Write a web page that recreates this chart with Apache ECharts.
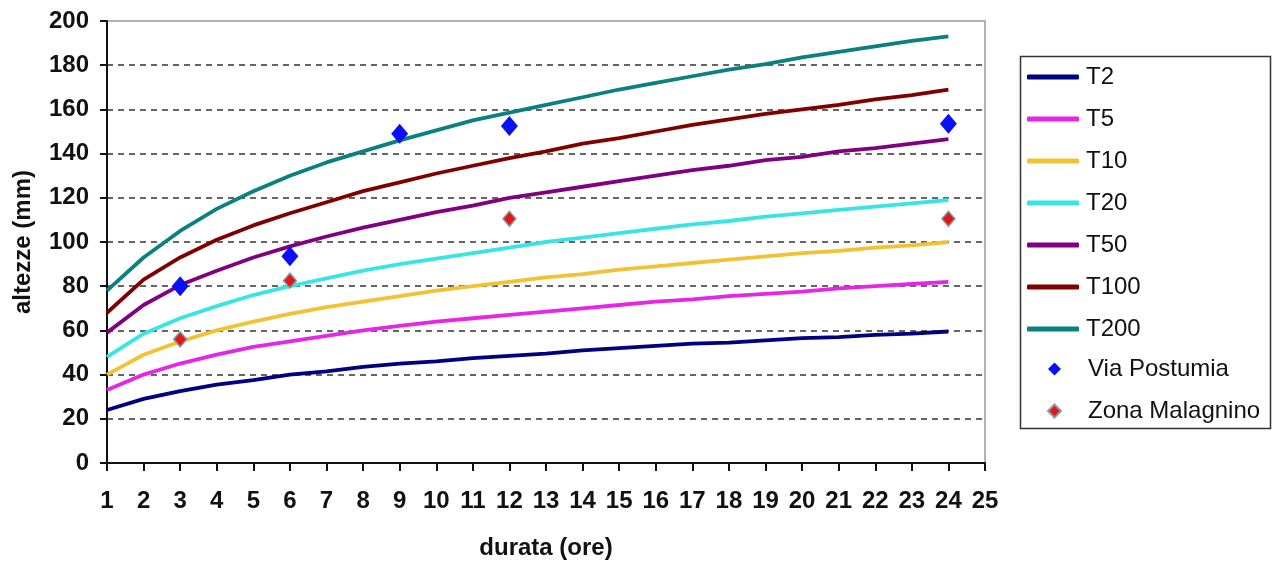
<!DOCTYPE html>
<html>
<head>
<meta charset="utf-8">
<script src="https://cdn.jsdelivr.net/npm/echarts@6/dist/echarts.min.js"></script>
<style>
html,body{margin:0;padding:0;background:#fff;}
#c{width:1278px;height:567px;}
</style>
</head>
<body>
<div id="c"></div>
<script>
var durations = [1,2,3,4,5,6,7,8,9,10,11,12,13,14,15,16,17,18,19,20,21,22,23,24];
var seriesNames = ['T2','T5','T10','T20','T50','T100','T200'];
var T2   = [24,29,32.5,35.5,37.5,40,41.5,43.5,45,46,47.5,48.5,49.5,51,52,53,54,54.5,55.5,56.5,57,58,58.5,59.5];
var T5   = [33,40,45,49,52.5,55,57.5,60,62,64,65.5,67,68.5,70,71.5,73,74,75.5,76.5,77.5,79,80,81,82];
var T10  = [40,49,55,60,64,67.5,70.5,73,75.5,78,80,82,84,85.5,87.5,89,90.5,92,93.5,95,96,97.5,98.5,100];
var T20  = [48,58.5,65.5,71,76,80,83.5,87,90,92.5,95,97.5,100,102,104,106,108,109.5,111.5,113,114.5,116,117.5,119];
var T50  = [59,71.5,80.5,87,93,98,102.5,106.5,110,113.5,116.5,120,122.5,125,127.5,130,132.5,134.5,137,138.5,141,142.5,144.5,146.5];
var T100 = [68,83,93,101,107.5,113,118,123,127,131,134.5,138,141,144.5,147,150,153,155.5,158,160,162,164.5,166.5,169];
var T200 = [78,93,105,115,123,130,136,141,146,150.5,155,158.5,162,165.5,169,172,175,178,180.5,183.5,186,188.5,191,193];
var viaPostumiaX = [3,6,9,12,24];
var viaPostumiaY = [80,93.5,149,152.5,153.5];
var malagninoX = [3,6,12,24];
var malagninoY = [56,82.5,110.5,110.5];
var scatterNames = ['Via Postumia','Zona Malagnino'];
var xTicks = [1,25];
var yTicks = [0,200];

var lineValues = [T2,T5,T10,T20,T50,T100,T200];
var lineColors = ['#000080','#e626e6','#f2c232','#38e4e4','#800080','#800000','#0a8080'];

function pairs(xs, ys){ return xs.map(function(x,i){ return [x, ys[i]]; }); }

var series = lineValues.map(function(vals, i){
  return {
    name: seriesNames[i], type: 'line', data: pairs(durations, vals),
    showSymbol: false, symbol: 'none', smooth: false,
    lineStyle: {color: lineColors[i], width: 3.8},
    itemStyle: {color: lineColors[i]},
    z: 3
  };
});
series.push({
  name: scatterNames[0], type: 'scatter', data: pairs(viaPostumiaX, viaPostumiaY),
  symbol: 'diamond', symbolSize: [17, 20],
  itemStyle: {color: '#0a10f5', opacity: 1}, z: 5
});
series.push({
  name: scatterNames[1], type: 'scatter', data: pairs(malagninoX, malagninoY),
  symbol: 'diamond', symbolSize: [13, 15],
  itemStyle: {color: '#e01818', borderColor: '#8a98a8', borderWidth: 1.5, opacity: 1}, z: 5
});

var font = "'Liberation Sans', Arial, sans-serif";
var chart = echarts.init(document.getElementById('c'), null, {renderer: 'canvas'});
chart.setOption({
  backgroundColor: '#fff',
  animation: false,
  grid: {left: 107, right: 293, top: 21, bottom: 104, show: true, borderColor: '#9a9a9a', borderWidth: 1.5, containLabel: false},
  xAxis: {
    type: 'value', min: xTicks[0], max: xTicks[1], interval: 1,
    name: 'durata (ore)', nameLocation: 'middle', nameGap: 73,
    nameTextStyle: {fontFamily: font, fontWeight: 'bold', fontSize: 24, color: '#111'},
    axisLine: {show: true, onZero: false, lineStyle: {color: '#111', width: 2}},
    axisTick: {show: true, length: 8, lineStyle: {color: '#111', width: 2}},
    axisLabel: {fontFamily: font, fontWeight: 'bold', fontSize: 24, color: '#111', margin: 26},
    splitLine: {show: false}
  },
  yAxis: {
    type: 'value', min: yTicks[0], max: yTicks[1], interval: 20,
    name: 'altezze (mm)', nameLocation: 'middle', nameGap: 72, nameRotate: 90,
    nameTextStyle: {fontFamily: font, fontWeight: 'bold', fontSize: 24, color: '#111'},
    axisLine: {show: true, lineStyle: {color: '#111', width: 2}},
    axisTick: {show: true, length: 7, lineStyle: {color: '#111', width: 2}},
    axisLabel: {fontFamily: font, fontWeight: 'bold', fontSize: 24, color: '#111', margin: 18},
    splitLine: {show: true, showMinLine: false, showMaxLine: false, lineStyle: {color: '#333', width: 1.5, type: [6, 5]}}
  },
  legend: [{
    orient: 'vertical', left: 1027, top: 65, padding: 0,
    itemWidth: 52, itemHeight: 5, itemGap: 18, icon: 'roundRect',
    textStyle: {fontFamily: font, fontSize: 24, color: '#111', lineHeight: 24, padding: [0,0,0,2]},
    data: seriesNames
  }, {
    orient: 'vertical', left: 1047, top: 357, padding: 0,
    itemWidth: 13, itemHeight: 13, itemGap: 18, icon: 'diamond',
    textStyle: {fontFamily: font, fontSize: 24, color: '#111', lineHeight: 24, padding: [0,0,0,22]},
    data: scatterNames
  }],
  graphic: [{
    type: 'rect', left: 1018, top: 54, silent: true,
    shape: {width: 250, height: 372},
    style: {fill: 'none', stroke: '#333', lineWidth: 1.5}
  }],
  series: series
});
</script>
</body>
</html>
